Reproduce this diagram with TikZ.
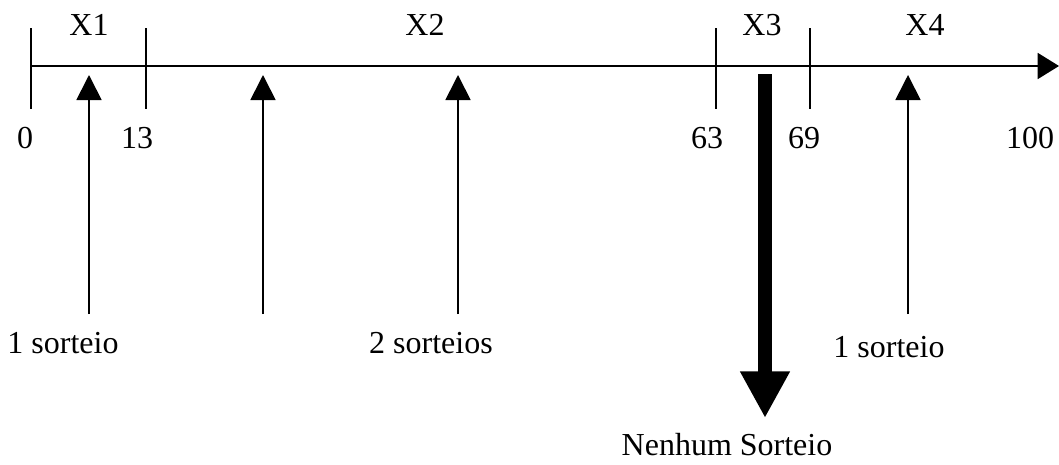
\documentclass[tikz,border=0pt]{standalone}
\usepackage{fontspec}
\setmainfont{Liberation Serif}
\usetikzlibrary{arrows.meta}

\begin{document}
\begin{tikzpicture}[x=0.75pt,y=-0.75pt,
        seta/.style={-{Triangle[width=18.75pt,length=18.75pt]},line width=1.3pt},
        rotulo/.style={font=\fontsize{24}{29}\selectfont,anchor=base,inner sep=0pt}]
        \useasboundingbox (0,0) rectangle (1059,464);
        % eixo principal
        \coordinate (ini) at (31,66);
        \coordinate (fim) at (1059,66);
        \draw[-{Triangle[width=19.5pt,length=16pt]},line width=1.3pt] (ini) -- (fim);
        \foreach \x/\n in {31/t0, 146/t13, 716/t63, 810/t69} {
            \draw[line width=1.1pt] (\x,28) coordinate (\n a) -- (\x,109) coordinate (\n b);
        }
        \foreach \x/\lbl in {89/X1, 425/X2, 762/X3, 925/X4} {
            \node[rotulo] (\lbl) at (\x,36) {\lbl};
        }
        \foreach \x/\lbl in {25/0, 137/13, 707/63, 804/69, 1030/100} {
            \node[rotulo] (n\lbl) at (\x,148) {\lbl};
        }
        % sorteios
        \foreach \x/\n in {89/a, 263/b, 458/c, 908/d} {
            \coordinate (base\n) at (\x,314);
            \coordinate (ponta\n) at (\x,75);
            \draw[seta] (base\n) -- (ponta\n);
        }
        \coordinate (topo) at (765,74);
        \coordinate (baixo) at (765,418);
        \draw[-{Triangle[width=35pt,length=35pt]},line width=10.5pt] (topo) -- (baixo);
        \node[rotulo] (um) at (63,353) {1 sorteio};
        \node[rotulo] (dois) at (431,353) {2 sorteios};
        \node[rotulo] (umb) at (889,357) {1 sorteio};
        \node[rotulo] (nenhum) at (727,455) {Nenhum Sorteio};
    \end{tikzpicture}
\end{document}
